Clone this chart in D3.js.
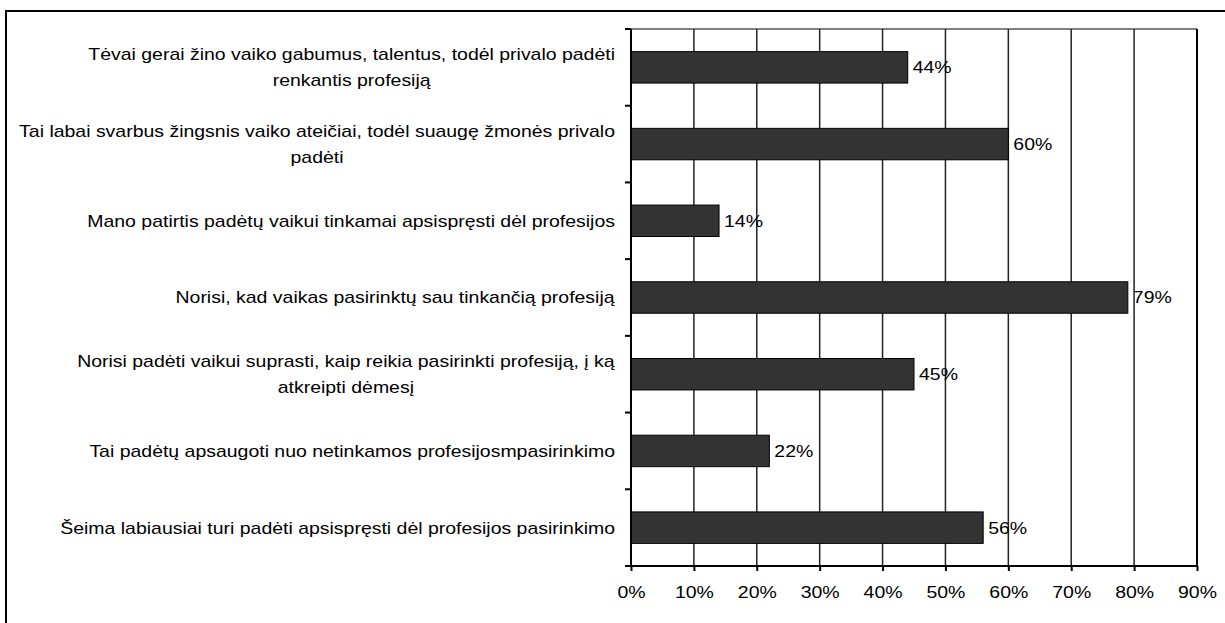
<!DOCTYPE html>
<html>
<head>
<meta charset="utf-8">
<script src="https://cdn.jsdelivr.net/npm/d3@7"></script>
<style>
  body { margin: 0; background: #fff; }
  svg text { font-family: "Liberation Sans", Arial, sans-serif; fill: #000; }
</style>
</head>
<body>
<div id="chart"></div>
<script>
// category labels, already split into lines like in the original
var categories = [
  ["Tėvai gerai žino vaiko gabumus, talentus, todėl privalo padėti", "renkantis profesiją"],
  ["Tai labai svarbus žingsnis vaiko ateičiai, todėl suaugę žmonės privalo", "padėti"],
  ["Mano patirtis padėtų vaikui tinkamai apsispręsti dėl profesijos"],
  ["Norisi, kad vaikas pasirinktų sau tinkančią profesiją"],
  ["Norisi padėti vaikui suprasti, kaip reikia pasirinkti profesiją, į ką", "atkreipti dėmesį"],
  ["Tai padėtų apsaugoti nuo netinkamos profesijosmpasirinkimo"],
  ["Šeima labiausiai turi padėti apsispręsti dėl profesijos pasirinkimo"]
];
var values = [44, 60, 14, 79, 45, 22, 56];
var xTicks = [0, 10, 20, 30, 40, 50, 60, 70, 80, 90];

var svgWidth = 1225;
var svgHeight = 623;

var margin = { top: 29, right: 28, bottom: 57, left: 631 };
var width = svgWidth - margin.left - margin.right;
var height = svgHeight - margin.top - margin.bottom;

// the original text is a bit stretched sideways
var fontSize = "17px";
var stretch = 1.145;

var svg = d3.select("#chart")
  .append("svg")
  .attr("width", svgWidth)
  .attr("height", svgHeight);

// outer frame (runs off the right and bottom edges)
svg.append("rect")
  .attr("x", 6)
  .attr("y", 11)
  .attr("width", svgWidth + 20)
  .attr("height", svgHeight + 20)
  .attr("fill", "none")
  .attr("stroke", "#000")
  .attr("stroke-width", 2);

var chartGroup = svg.append("g")
  .attr("transform", `translate(${margin.left}, ${margin.top})`);

var xScale = d3.scaleLinear()
  .domain([0, 90])
  .range([0, width]);

var yScale = d3.scaleBand()
  .domain(d3.range(categories.length))
  .range([0, height])
  .paddingInner(0.59)
  .paddingOuter(0.295);

// plot area top border
chartGroup.append("line")
  .attr("x1", 0).attr("x2", width)
  .attr("y1", 0).attr("y2", 0)
  .attr("stroke", "#808080")
  .attr("stroke-width", 2);

// vertical gridlines
chartGroup.selectAll(".grid")
  .data(xTicks.slice(1))
  .enter()
  .append("line")
  .attr("class", "grid")
  .attr("x1", d => xScale(d)).attr("x2", d => xScale(d))
  .attr("y1", 0).attr("y2", height)
  .attr("stroke", d => d === 90 ? "#000" : "#222")
  .attr("stroke-width", d => d === 90 ? 2 : 1.5);

// bars
chartGroup.selectAll("rect.bar")
  .data(values)
  .enter()
  .append("rect")
  .attr("class", "bar")
  .attr("x", xScale(0))
  .attr("y", (d, i) => yScale(i))
  .attr("width", d => xScale(d) - xScale(0))
  .attr("height", yScale.bandwidth())
  .attr("fill", "#333333")
  .attr("stroke", "#000")
  .attr("stroke-width", 1);

// value labels
chartGroup.selectAll("text.val")
  .data(values)
  .enter()
  .append("text")
  .attr("class", "val")
  .attr("transform", (d, i) =>
    `translate(${xScale(d) + 5}, ${yScale(i) + yScale.bandwidth() / 2}) scale(${stretch}, 1)`)
  .attr("dy", "0.35em")
  .style("font-size", fontSize)
  .text(d => d + "%");

// x axis
var bottomAxis = d3.axisBottom(xScale)
  .tickValues(xTicks)
  .tickSize(5)
  .tickPadding(15)
  .tickFormat(d => d + "%");

var xAxis = chartGroup.append("g")
  .attr("transform", `translate(0, ${height})`)
  .call(bottomAxis);
xAxis.select(".domain").attr("stroke", "#000").attr("stroke-width", 2)
  .attr("d", `M-6,0H${width}`);
xAxis.selectAll(".tick line").attr("stroke", "#000").attr("stroke-width", 2);
xAxis.selectAll(".tick text")
  .style("font-size", fontSize)
  .attr("transform", `scale(${stretch}, 1)`);

// y axis line with category separators
chartGroup.append("line")
  .attr("x1", 0).attr("x2", 0)
  .attr("y1", 0).attr("y2", height)
  .attr("stroke", "#000")
  .attr("stroke-width", 2);

chartGroup.selectAll(".ysep")
  .data(d3.range(categories.length))
  .enter()
  .append("line")
  .attr("class", "ysep")
  .attr("x1", -6).attr("x2", 0)
  .attr("y1", d => d * height / categories.length)
  .attr("y2", d => d * height / categories.length)
  .attr("stroke", "#000")
  .attr("stroke-width", 2);

// category labels
var lineGap = 26;
var labelGroup = chartGroup.append("g")
  .attr("transform", `translate(-16, 0) scale(${stretch}, 1)`);

var labels = labelGroup.selectAll("text.cat")
  .data(categories)
  .enter()
  .append("text")
  .attr("class", "cat")
  .attr("text-anchor", "middle")
  .style("font-size", fontSize);

labels.each(function(lines, i) {
  var cy = yScale(i) + yScale.bandwidth() / 2;
  var t = d3.select(this);
  var firstY = cy - (lines.length - 1) * lineGap / 2;
  lines.forEach(function(line, k) {
    t.append("tspan")
      .attr("x", 0)
      .attr("y", firstY + k * lineGap)
      .attr("dy", "0.35em")
      .text(line);
  });
});

// right-align each label block against the axis, lines centred to each other
labels.each(function() {
  var box = this.getBBox();
  d3.select(this).selectAll("tspan").attr("x", -box.width / 2);
});
</script>
</body>
</html>
